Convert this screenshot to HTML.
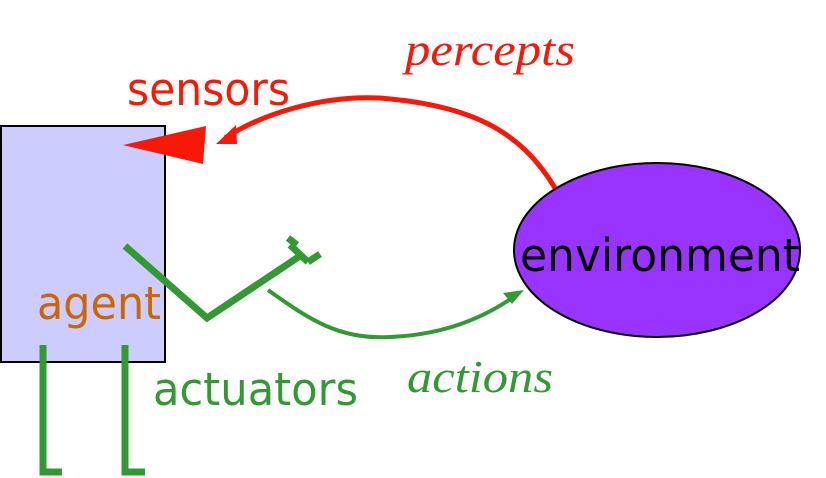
<!DOCTYPE html>
<html><head><style>html,body{margin:0;padding:0;background:#fff}svg{display:block}</style></head>
<body>
<svg width="826" height="478" viewBox="0 0 826 478" xmlns="http://www.w3.org/2000/svg">
<rect x="1" y="126" width="164" height="236" fill="#ccccff" stroke="#000" stroke-width="2"/>
<ellipse cx="657" cy="250" rx="143" ry="87" fill="#9933ff" stroke="#000" stroke-width="2"/>
<polygon points="123,145 206,126 203,164" fill="#f81808"/>
<path d="M555,188 C520,130 470,105 380,98 C320,95 260,115 225,138" fill="none" stroke="#f81808" stroke-width="5"/>
<polygon points="216,144 236,125 237,144" fill="#f81808"/>
<g stroke="#339933" stroke-width="7" fill="none">
<polyline points="125,246 207,318 300,256"/>
<line x1="290" y1="245" x2="308" y2="262"/>
<line x1="288" y1="238" x2="297" y2="245"/>
<line x1="308" y1="262" x2="320" y2="254"/>
<polyline points="43,345 43,472 62,472"/>
<polyline points="125,345 125,472 145,472"/>
</g>
<path d="M268,290 C310,320 340,340 390,337 C440,335 480,320 512,298" fill="none" stroke="#339933" stroke-width="4"/>
<polygon points="524,290 503,293 512,304" fill="#339933"/>
<g font-family="'DejaVu Sans','Liberation Sans',sans-serif" font-size="45">
<text x="127" y="105" fill="#f81808" textLength="163" lengthAdjust="spacingAndGlyphs">sensors</text>
<text x="37" y="319" fill="#cc6600" textLength="124" lengthAdjust="spacingAndGlyphs">agent</text>
<text x="153" y="405" fill="#339933" textLength="205" lengthAdjust="spacingAndGlyphs">actuators</text>
<text x="520" y="271" fill="#000" textLength="280" lengthAdjust="spacingAndGlyphs">environment</text>
</g>
<g font-family="'Liberation Serif',serif" font-style="italic" font-size="46">
<text x="405" y="65" fill="#f81808" textLength="170" lengthAdjust="spacingAndGlyphs">percepts</text>
<text x="407" y="392" fill="#339933" textLength="146" lengthAdjust="spacingAndGlyphs">actions</text>
</g>
</svg>
</body></html>
